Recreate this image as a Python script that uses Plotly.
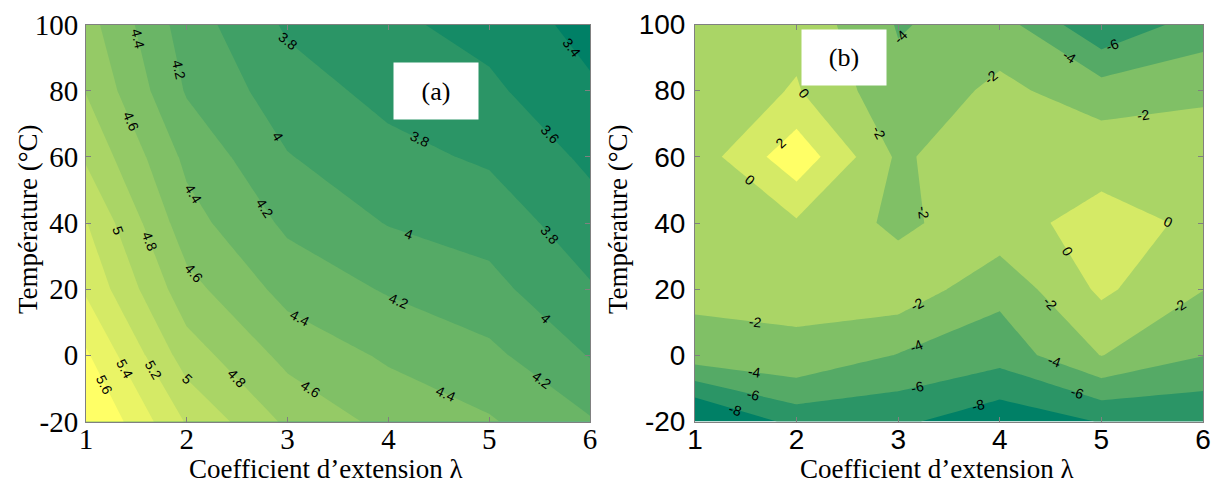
import math
import plotly.graph_objects as go

# ---- data ----
lam = [1, 2, 3, 4, 5, 6]                      # Coefficient d'extension λ
temp = [-20, 0, 20, 40, 60, 80, 100]          # Température (°C)

# panel (a): rows = temp, cols = lam
z_a = [
    [5.85, 5.18, 4.76, 4.54, 4.42, 4.22],
    [5.63, 4.90, 4.54, 4.37, 4.25, 3.99],
    [5.37, 4.67, 4.33, 4.18, 4.06, 3.82],
    [5.21, 4.48, 4.16, 3.99, 3.92, 3.68],
    [4.97, 4.35, 4.01, 3.86, 3.77, 3.56],
    [4.79, 4.18, 3.89, 3.74, 3.64, 3.43],
    [4.68, 4.10, 3.77, 3.64, 3.53, 3.33],
]

# panel (b)
z_b = [
    [-10.90, -7.30, -7.60, -9.40, -7.90, -7.75],
    [-2.88, -2.30, -4.10, -5.20, -1.95, -3.95],
    [-1.45, -1.60, -0.70, -3.40, 0.39, -1.95],
    [-1.30, -0.25, -2.47, -0.65, 0.65, -0.32],
    [-1.20, 3.35, -2.34, -0.44, -0.72, -0.20],
    [-1.30, 0.17, -3.45, -1.52, -3.05, -2.60],
    [-1.00, -0.60, -4.15, -3.12, -7.77, -5.00],
]

levels_a = [3.4, 5.6, 0.2]     # start, end, step
levels_b = [-8, 2, 2]
x_tick_vals = [1, 2, 3, 4, 5, 6]
x_tick_text = ["1", "2", "3", "4", "5", "6"]
y_tick_vals = [-20, 0, 20, 40, 60, 80, 100]
y_tick_text = ["-20", "0", "20", "40", "60", "80", "100"]
x_title = "Coefficient d\u2019extension \u03bb"
y_title = "Temp\u00e9rature (\u00b0C)"
panel_tags = ["(a)", "(b)"]

summer = [[0, "rgb(0,128,102)"], [1, "rgb(255,255,102)"]]

W, H = 1212, 486
SERIF = "Liberation Serif, Times New Roman, serif"
SANS = "Liberation Sans, Arial, sans-serif"

# plot areas (page pixel coords)
L_x0, L_x1 = 86, 590
R_x0, R_x1 = 695, 1203
Y_top, Y_bot = 24.5, 421.5
PW = L_x1 - L_x0
PH = Y_bot - Y_top


def px_x(X):
    return X / W


def px_y(Y):
    return 1 - Y / H


def level_list(lev):
    n = int(round((lev[1] - lev[0]) / lev[2]))
    return [round(lev[0] + k * lev[2], 6) for k in range(n + 1)]


def contour_polylines(xs, ys, z, L):
    """Marching squares (linear interpolation on cell edges) for one level."""
    nx, ny = len(xs), len(ys)

    def val(n):
        return z[n[1]][n[0]]

    def point(key):
        a, b = key
        t = (L - val(a)) / (val(b) - val(a))
        return (xs[a[0]] + t * (xs[b[0]] - xs[a[0]]), ys[a[1]] + t * (ys[b[1]] - ys[a[1]]))

    adj = {}

    def link(k1, k2):
        adj.setdefault(k1, []).append(k2)
        adj.setdefault(k2, []).append(k1)

    for j in range(ny - 1):
        for i in range(nx - 1):
            c = [(i, j), (i + 1, j), (i + 1, j + 1), (i, j + 1)]
            e = []
            for k in range(4):
                a, b = c[k], c[(k + 1) % 4]
                e.append(tuple(sorted([a, b])) if (val(a) > L) != (val(b) > L) else None)
            hits = [x for x in e if x is not None]
            if len(hits) == 2:
                link(hits[0], hits[1])
            elif len(hits) == 4:
                centre = sum(val(n) for n in c) / 4.0
                if (centre > L) == (val(c[0]) > L):
                    link(e[0], e[1]); link(e[2], e[3])
                else:
                    link(e[3], e[0]); link(e[1], e[2])
    seen = set()
    lines = []
    starts = [k for k, v in adj.items() if len(v) == 1] + list(adj.keys())
    for s in starts:
        if s in seen:
            continue
        chain = [s]
        seen.add(s)
        cur = s
        while True:
            nxt = [n for n in adj[cur] if n not in seen]
            if not nxt:
                break
            cur = nxt[0]
            seen.add(cur)
            chain.append(cur)
        lines.append([point(k) for k in chain])
    return lines


def contour_label_annots(z, lev, xref, yref, spacing=165.0, first=60.0):
    sx = PW / (lam[-1] - lam[0])
    sy = PH / (temp[-1] - temp[0])
    out = []
    for L in level_list(lev):
        for line in contour_polylines(lam, temp, z, L):
            pts = [((x - lam[0]) * sx, (temp[-1] - y) * sy) for x, y in line]
            cum = [0.0]
            for p, q in zip(pts[:-1], pts[1:]):
                cum.append(cum[-1] + math.hypot(q[0] - p[0], q[1] - p[1]))
            total = cum[-1]
            if total < 30:
                continue
            s = first if total > 2 * first else total / 2
            while s < total - 10:
                k = max(i for i in range(len(cum) - 1) if cum[i] <= s)
                p, q = pts[k], pts[k + 1]
                seg = cum[k + 1] - cum[k]
                t = (s - cum[k]) / seg if seg > 0 else 0
                X = p[0] + t * (q[0] - p[0])
                Y = p[1] + t * (q[1] - p[1])
                ang = math.degrees(math.atan2(q[1] - p[1], q[0] - p[0]))
                if ang > 90:
                    ang -= 180
                if ang <= -90:
                    ang += 180
                if 6 < X < PW - 6 and 6 < Y < PH - 6:
                    out.append(dict(x=lam[0] + X / sx, y=temp[-1] - Y / sy, xref=xref, yref=yref,
                                    text="{:g}".format(L), showarrow=False, textangle=ang,
                                    font=dict(family=SANS, size=14, color="black")))
                s += spacing
    return out


fig = go.Figure()

for z, lev, xa, ya in [(z_a, levels_a, "x", "y"), (z_b, levels_b, "x2", "y2")]:
    fig.add_trace(go.Contour(
        x=lam, y=temp, z=z, xaxis=xa, yaxis=ya,
        colorscale=summer, showscale=False, autocontour=False,
        contours=dict(start=lev[0], end=lev[1], size=lev[2], coloring="fill", showlabels=False),
        line=dict(width=0, smoothing=0),
        hoverinfo="skip",
    ))

axis_common = dict(ticks="inside", ticklen=5, tickcolor="#808080", showline=True,
                   linecolor="#808080", linewidth=1, mirror="ticks", showgrid=False,
                   zeroline=False, automargin=False, ticklabeloverflow="allow")

fig.update_layout(
    width=W, height=H, margin=dict(l=0, r=0, t=0, b=0, autoexpand=False),
    paper_bgcolor="white", plot_bgcolor="white", showlegend=False,
    xaxis=dict(domain=[px_x(L_x0), px_x(L_x1)], range=[1, 6], tickvals=x_tick_vals,
               ticktext=x_tick_text, ticklabelstandoff=-8,
               tickfont=dict(family=SERIF, size=29, color="black"), anchor="y", **axis_common),
    yaxis=dict(domain=[px_y(Y_bot), px_y(Y_top)], range=[-20, 100], tickvals=y_tick_vals,
               ticktext=y_tick_text, ticklabelstandoff=1,
               tickfont=dict(family=SERIF, size=29, color="black"), anchor="x", **axis_common),
    xaxis2=dict(domain=[px_x(R_x0), px_x(R_x1)], range=[1, 6], tickvals=x_tick_vals,
                ticktext=x_tick_text, ticklabelstandoff=-7,
                tickfont=dict(family=SANS, size=28, color="black"), anchor="y2", **axis_common),
    yaxis2=dict(domain=[px_y(Y_bot), px_y(Y_top)], range=[-20, 100], tickvals=y_tick_vals,
                ticktext=y_tick_text, ticklabelstandoff=3,
                tickfont=dict(family=SANS, size=28, color="black"), anchor="x2", **axis_common),
)

annots = []
annots += contour_label_annots(z_a, levels_a, "x", "y")
annots += contour_label_annots(z_b, levels_b, "x2", "y2")
# axis titles
for cx in [326, 937]:
    annots.append(dict(x=px_x(cx), y=px_y(469), xref="paper", yref="paper",
                       text=x_title, showarrow=False, xanchor="center", yanchor="middle",
                       font=dict(family=SERIF, size=27, color="black")))
for cx in [28, 618]:
    annots.append(dict(x=px_x(cx), y=px_y(219), xref="paper", yref="paper",
                       text=y_title, showarrow=False, textangle=-90,
                       xanchor="center", yanchor="middle",
                       font=dict(family=SERIF, size=27, color="black")))
# panel tags in white boxes
annots.append(dict(x=4.47, y=79.9, xref="x", yref="y", text=panel_tags[0], showarrow=False,
                   bgcolor="white", width=84, height=56, borderpad=0,
                   font=dict(family=SERIF, size=26, color="black")))
annots.append(dict(x=2.47, y=89.9, xref="x2", yref="y2", text=panel_tags[1], showarrow=False,
                   bgcolor="white", width=84, height=55, borderpad=0,
                   font=dict(family=SERIF, size=26, color="black")))
fig.update_layout(annotations=annots)

fig.write_html("out.html", config={"displayModeBar": False},
               post_script="document.body.style.margin='0px';document.body.style.overflow='hidden';")
